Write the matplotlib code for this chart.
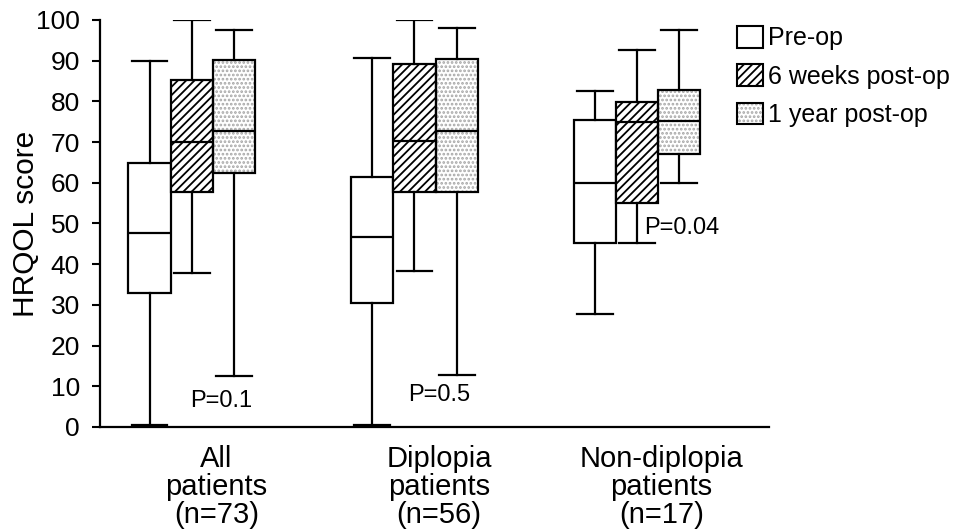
import matplotlib
matplotlib.use('Agg')
import matplotlib.pyplot as plt
from matplotlib.patches import Patch, PathPatch

# 글꼴: Helvetica 비슷한 Liberation Sans 사용
plt.rcParams['font.family'] = ['Liberation Sans', 'DejaVu Sans']
plt.rcParams['hatch.linewidth'] = 1.3

## 데이터
groups = ['All\npatients\n(n=73)', 'Diplopia\npatients\n(n=56)', 'Non-diplopia\npatients\n(n=17)']
series = ['Pre-op', '6 weeks post-op', '1 year post-op']

# [아래 수염, Q1, 중앙값, Q3, 위 수염] - 그룹별
pre_op = [[0.5, 33.0, 47.7, 64.8, 90.0],
          [0.5, 30.4, 46.6, 61.4, 90.7],
          [27.8, 45.1, 60.0, 75.4, 82.6]]
weeks6 = [[37.9, 57.7, 70.0, 85.2, 100.0],
          [38.2, 57.7, 70.3, 89.1, 100.0],
          [45.2, 55.0, 75.0, 79.9, 92.6]]
year1 = [[12.6, 62.5, 72.7, 90.2, 97.5],
         [12.8, 57.6, 72.8, 90.5, 97.9],
         [60.0, 67.0, 75.1, 82.7, 97.5]]

p_text = ['P=0.1', 'P=0.5', 'P=0.04']
p_x = [-0.01, 0.97, 2.03]
p_y = [4.9, 6.4, 47.3]

fig = plt.figure(figsize=(9.57, 5.31), dpi=100)
ax = fig.add_axes([0.1045, 0.196, 0.699, 0.7665])

w = 0.19
dot_color = '#a6a6a6'
line = dict(lw=1.6, color='black')

for j, data in enumerate([pre_op, weeks6, year1]):
    stats = [dict(whislo=d[0], q1=d[1], med=d[2], q3=d[3], whishi=d[4]) for d in data]
    pos = [i + (j - 1) * w for i in range(len(groups))]
    box = dict(lw=1.6, edgecolor='black', facecolor='white')
    if j == 1:
        box['hatch'] = '////'
    if j == 2:
        box['facecolor'] = 'none'
    bp = ax.bxp(stats, positions=pos, widths=w, capwidths=0.16,
                patch_artist=True, showfliers=False, manage_ticks=False,
                boxprops=box, whiskerprops=line, capprops=line,
                medianprops=line)
    if j == 2:
        # 점무늬 배경은 상자 경로를 그대로 써서 뒤에 깔기
        for b in bp['boxes']:
            ax.add_patch(PathPatch(b.get_path(), facecolor='white',
                                   edgecolor=dot_color, lw=0, hatch='....',
                                   zorder=1.5))

for t, x, y in zip(p_text, p_x, p_y):
    ax.text(x, y, t, fontsize=17, ha='left', va='baseline')

ax.set_xlim(-0.413, 2.593)
ax.set_ylim(0, 100)
ax.set_yticks(range(0, 101, 10))
ax.set_xticks([i + 0.11 for i in range(len(groups))])
ax.set_xticklabels(groups, fontsize=21, linespacing=1.0)
ax.tick_params(axis='x', length=0, pad=13)
ax.tick_params(axis='y', length=6, width=1.5, labelsize=19, pad=8.5)
ax.set_ylabel('HRQOL score', fontsize=21.5, labelpad=-3)

for s in ['top', 'right']:
    ax.spines[s].set_visible(False)
for s in ['left', 'bottom']:
    ax.spines[s].set_linewidth(1.6)

# 범례
handles = [Patch(facecolor='white', edgecolor='black', lw=1.5),
           Patch(facecolor='white', edgecolor='black', lw=1.5, hatch='////'),
           (Patch(facecolor='white', edgecolor=dot_color, lw=0, hatch='....'),
            Patch(facecolor='none', edgecolor='black', lw=1.5))]
fig.legend(handles, series, loc='upper left', bbox_to_anchor=(737 / 957, 1 - 26 / 531),
           frameon=False, fontsize=18, handlelength=1.05, handleheight=0.95,
           handletextpad=0.2, labelspacing=0.56, borderpad=0, borderaxespad=0)

fig.savefig('out.png', dpi=100)
